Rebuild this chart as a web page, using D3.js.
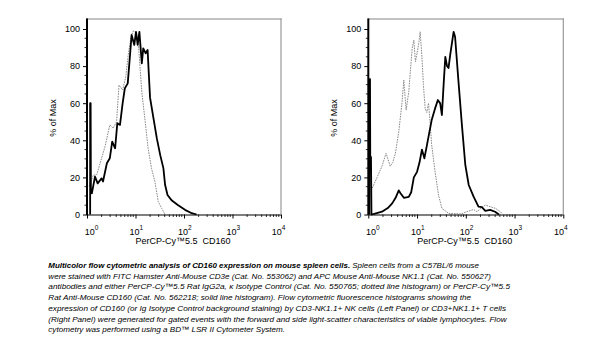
<!DOCTYPE html>
<html lang="en">
<head>
  <meta charset="UTF-8">
  <title>CD160 flow cytometry</title>
  <style>
    body { margin: 0; background: #fff; }
    svg { display: block; font-family: "Liberation Sans", Arial, sans-serif; }
  </style>
</head>
<body>
<svg width="615" height="345"></svg>

<script src="https://cdn.jsdelivr.net/npm/d3@7/dist/d3.min.js"></script>
<script>
  // x values are in decades (log10 of fluorescence), y values are % of max
  var leftSolidLog = [0.065, 0.065, 0.075, 0.08, 0.10, 0.165, 0.22, 0.30, 0.33, 0.41, 0.47, 0.52, 0.58, 0.625, 0.68, 0.735, 0.78, 0.84, 0.89, 0.92, 0.975, 1.01, 1.045, 1.08, 1.13, 1.16, 1.21, 1.25, 1.27, 1.30, 1.37, 1.44, 1.51, 1.575, 1.61, 1.66, 1.75, 1.88, 2.02, 2.16, 2.26];
  var leftSolidPct = [0, 60, 60, 14, 11.4, 20.4, 16.8, 19.5, 17.8, 27.6, 30.3, 39.3, 35.7, 49.2, 48.3, 60, 68, 70.7, 86.9, 96.8, 91.4, 98.5, 91.4, 98.5, 81.5, 89.6, 86.9, 88.7, 78, 63, 52, 41, 32, 25, 16, 10.5, 7.5, 5, 2.5, 0.7, 0];
  var leftDottedLog = [0.045, 0.13, 0.2, 0.27, 0.37, 0.47, 0.54, 0.61, 0.66, 0.735, 0.80, 0.85, 0.907, 0.955, 1.025, 1.07, 1.13, 1.20, 1.26, 1.33, 1.40, 1.47, 1.54, 1.61];
  var leftDottedPct = [15, 21.3, 21.3, 27.6, 36.5, 48.3, 46.5, 50, 69.8, 67.1, 74.3, 86, 95.8, 99, 97.7, 88, 66, 50, 35.7, 24.9, 17.7, 6.9, 3.3, 0];

  var rightSolidLog = [0.02, 0.02, 0.035, 0.04, 0.055, 0.065, 0.14, 0.28, 0.40, 0.49, 0.56, 0.625, 0.66, 0.73, 0.83, 0.88, 0.934, 1.0, 1.05, 1.10, 1.15, 1.20, 1.25, 1.30, 1.37, 1.427, 1.475, 1.51, 1.545, 1.58, 1.615, 1.646, 1.68, 1.715, 1.75, 1.78, 1.85, 1.92, 1.99, 2.06, 2.16, 2.26, 2.33, 2.40, 2.5, 2.6, 2.68];
  var rightSolidPct = [0, 73, 73, 31, 31, 0, 0.5, 1.5, 3.5, 6, 9, 13, 11.5, 9, 9.5, 12, 20, 23, 28, 35, 30.3, 37, 44, 50.9, 57.2, 61.7, 59.9, 53.6, 70, 85, 80, 79, 86, 92.3, 98.5, 95.8, 71.6, 48.3, 26.7, 15.9, 9.6, 4.2, 4, 2, 2.5, 1.5, 0];
  var rightDottedLog = [0.06, 0.18, 0.28, 0.364, 0.45, 0.5, 0.556, 0.625, 0.693, 0.728, 0.776, 0.83, 0.9, 0.934, 0.967, 1.0, 1.04, 1.064, 1.10, 1.13, 1.167, 1.20, 1.235, 1.26, 1.30, 1.37, 1.44, 1.51, 1.65, 1.9, 2.02, 2.16, 2.23, 2.33, 2.40, 2.50, 2.61, 2.71, 2.76];
  var rightDottedPct = [13, 20, 26, 33, 26, 28, 33, 44.6, 60.8, 72.5, 56.3, 66.2, 89.6, 94, 82.4, 87, 93, 98.5, 85, 70, 57, 55, 60, 52, 37.5, 23, 10.5, 3.3, 0.6, 0.3, 1.5, 2.7, 1.5, 3.8, 5.1, 4.2, 3.3, 1.5, 0];

  var yTicks = [0, 20, 40, 60, 80, 100];
  var xDecades = [0, 1, 2, 3, 4];
  var xLabel = 'PerCP-Cy\u21225.5\u00a0 CD160';
  var yLabel = '% of Max';

  var captionBold = 'Multicolor flow cytometric analysis of CD160 expression on mouse spleen cells.';
  var captionLines = [
    '\u00a0Spleen cells from a C57BL/6 mouse',
    'were stained with FITC Hamster Anti-Mouse CD3e (Cat. No. 553062) and APC Mouse Anti-Mouse NK1.1 (Cat. No. 550627)',
    'antibodies and either PerCP-Cy\u21225.5 Rat IgG2a, \u03ba Isotype Control (Cat. No. 550765; dotted line histogram) or PerCP-Cy\u21225.5',
    'Rat Anti-Mouse CD160 (Cat. No. 562218; solid line histogram). Flow cytometric fluorescence histograms showing the',
    'expression of CD160 (or Ig Isotype Control background staining) by CD3-NK1.1+ NK cells (Left Panel) or CD3+NK1.1+ T cells',
    '(Right Panel) were generated for gated events with the forward and side light-scatter characteristics of viable lymphocytes. Flow',
    'cytometry was performed using a BD\u2122 LSR II Cytometer System.'
  ];
  // right end of every caption line
  var captionEnds = [479, 491, 510, 471, 506, 506.5, 285];

  var svg = d3.select('svg');
  var boxes = [];

  function zip(xs, ys) {
    return xs.map(function (v, i) { return [v, ys[i]]; });
  }

  function drawPanel(left, right, solid, dotted) {
    var yTop = 19, yBase = 214.5;
    var x = d3.scaleLog().domain([1, 1e4]).range([left, right]);
    var y = d3.scaleLinear().domain([0, 100]).range([yBase, 29]);
    var g = svg.append('g');
    boxes.push({left: left, right: right, top: yTop, base: yBase});

    // y ticks: majors every 20, minors every 5
    var yg = g.append('g').attr('transform', 'translate(' + left + ',0)')
      .call(d3.axisLeft(y).tickValues(yTicks).tickSize(4).tickPadding(3));
    yg.select('.domain').remove();
    yg.selectAll('.tick text').attr('font-size', 9).attr('font-family', '"Liberation Sans", Arial, sans-serif');
    var yMinor = d3.range(0, 101, 5).filter(function (v) { return v % 20 !== 0; });
    g.append('g').selectAll('line').data(yMinor).enter().append('line')
      .attr('x1', left - 2.5).attr('x2', left)
      .attr('y1', function (d) { return y(d); }).attr('y2', function (d) { return y(d); })
      .attr('stroke', '#000').attr('stroke-width', 0.8);

    // x axis: decades with minor log ticks
    var xMinor = [];
    for (var e = 0; e < 4; e++) {
      for (var m = 2; m < 10; m++) xMinor.push(m * Math.pow(10, e));
    }
    g.append('g').attr('transform', 'translate(0,' + yBase + ')')
      .call(d3.axisBottom(x).tickValues(xDecades.map(function (d) { return Math.pow(10, d); }))
        .tickSize(4).tickSizeOuter(0).tickFormat(''));
    g.append('g').selectAll('line').data(xMinor).enter().append('line')
      .attr('x1', function (d) { return x(d); }).attr('x2', function (d) { return x(d); })
      .attr('y1', yBase).attr('y2', yBase + 2.5)
      .attr('stroke', '#000').attr('stroke-width', 0.8);

    // decade labels as 10 with superscript exponent
    var shift = [4.5, 0.7, 0.7, 0.7, -2.5];
    var lab = g.append('g').selectAll('text').data(xDecades).enter().append('text')
      .attr('x', function (d, i) { return x(Math.pow(10, d)) + shift[i]; })
      .attr('y', 234.5)
      .attr('text-anchor', 'middle').attr('font-size', 9);
    lab.append('tspan').text('10');
    lab.append('tspan').attr('dy', -5).attr('font-size', 6.5).text(function (d) { return d; });

    g.append('text')
      .attr('x', (left + right) / 2 - 1).attr('y', 243.5)
      .attr('text-anchor', 'middle').attr('font-size', 9).text(xLabel);
    g.append('text')
      .attr('transform', 'translate(' + (left - 31) + ',' + 118 + ') rotate(-90)')
      .attr('text-anchor', 'middle').attr('font-size', 9).text(yLabel);

    var line = d3.line()
      .x(function (d) { return x(Math.pow(10, d[0])); })
      .y(function (d) { return y(d[1]); });

    g.append('path').datum(dotted).attr('d', line)
      .attr('fill', 'none').attr('stroke', '#8a8a8a').attr('stroke-width', 1)
      .attr('stroke-dasharray', '1.6,1');
    g.append('path').datum(solid).attr('d', line)
      .attr('fill', 'none').attr('stroke', '#000').attr('stroke-width', 1.8)
      .attr('stroke-linejoin', 'round');
  }

  drawPanel(87, 281, zip(leftSolidLog, leftSolidPct), zip(leftDottedLog, leftDottedPct));
  drawPanel(368.3, 563.3, zip(rightSolidLog, rightSolidPct), zip(rightDottedLog, rightDottedPct));

  // caption, each line stretched to its measured width
  var capX = 48.3;
  var cap = svg.append('g').attr('font-size', 8).attr('font-style', 'italic');
  var first = cap.append('text').attr('x', capX).attr('y', 268)
    .attr('textLength', captionEnds[0] - capX).attr('lengthAdjust', 'spacingAndGlyphs');
  first.append('tspan').attr('font-weight', 'bold').text(captionBold);
  first.append('tspan').text(captionLines[0]);
  cap.selectAll('text.rest').data(captionLines.slice(1)).enter().append('text')
    .attr('class', 'rest')
    .attr('x', capX)
    .attr('y', function (d, i) { return 268 + (i + 1) * 10.7; })
    .attr('textLength', function (d, i) { return captionEnds[i + 1] - capX; })
    .attr('lengthAdjust', 'spacingAndGlyphs')
    .text(function (d) { return d; });

  // plot boxes last: grey top and right edges, heavy black left edge
  var frame = svg.append('g').attr('class', 'frames');
  frame.selectAll('rect.top').data(boxes).enter().append('rect')
    .attr('x', function (d) { return d.left; }).attr('y', function (d) { return d.top - 0.6; })
    .attr('width', function (d) { return d.right - d.left + 0.6; }).attr('height', 1.2)
    .attr('fill', '#9a9a9a');
  frame.selectAll('rect.side').data(boxes).enter().append('rect')
    .attr('x', function (d) { return d.right - 0.6; }).attr('y', function (d) { return d.top - 0.6; })
    .attr('width', 1.2).attr('height', function (d) { return d.base - d.top + 0.6; })
    .attr('fill', '#9a9a9a');
  frame.selectAll('rect.axis').data(boxes).enter().append('rect')
    .attr('x', function (d) { return d.left - 1; }).attr('y', function (d) { return d.top - 0.6; })
    .attr('width', 2).attr('height', function (d) { return d.base - d.top + 1.1; })
    .attr('fill', '#000');
</script>
</body>
</html>
